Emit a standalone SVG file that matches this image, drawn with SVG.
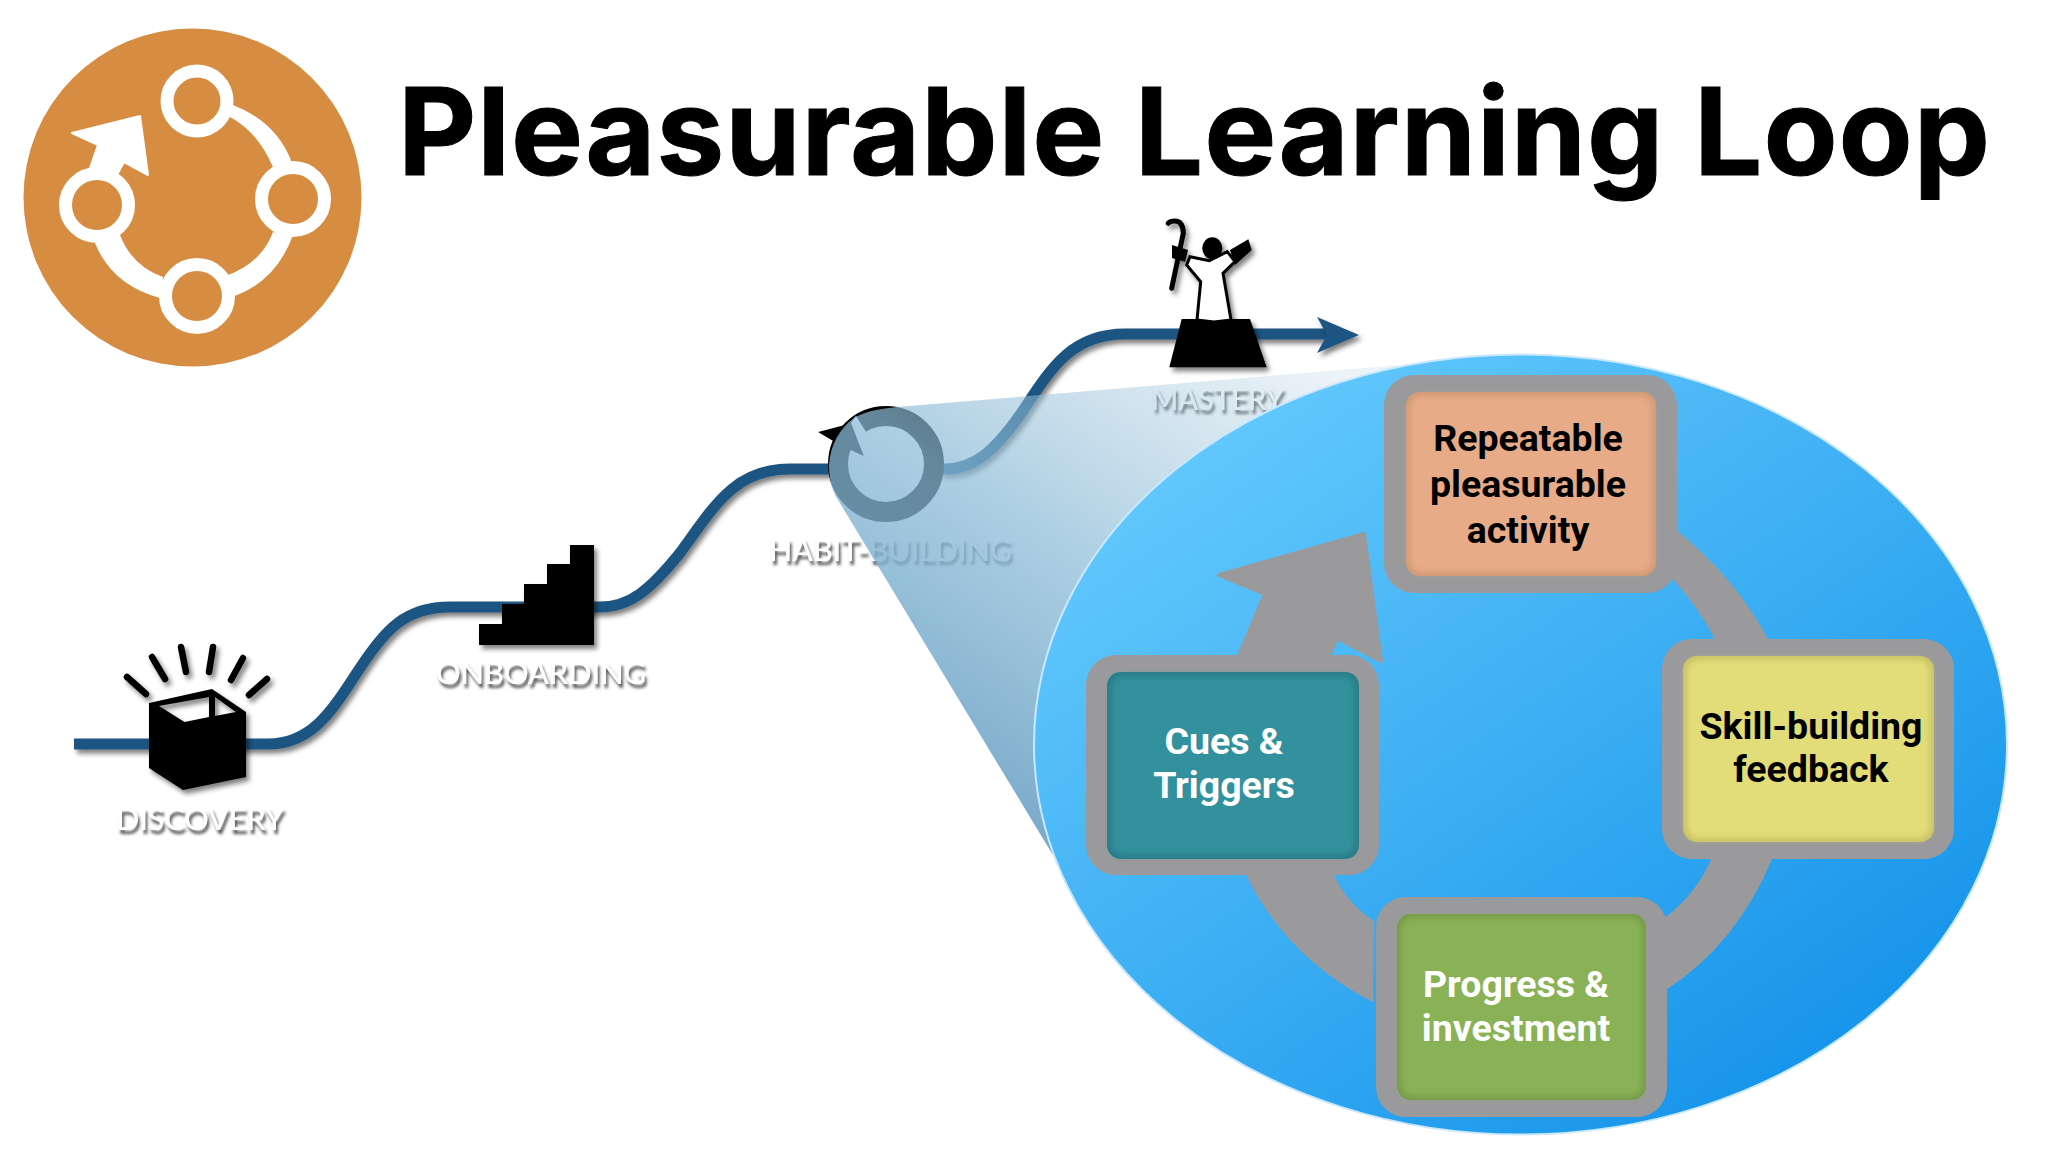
<svg xmlns="http://www.w3.org/2000/svg" width="2048" height="1152" viewBox="0 0 2048 1152">
<style>
.title{font-family:Inter,"Open Sans",sans-serif;font-weight:700;font-size:121px;fill:#000;stroke:#000;stroke-width:1}
.stage{font-family:Lato,"Liberation Sans",sans-serif;font-size:30px;font-weight:500;fill:#fff;filter:url(#ts)}
.box{font-family:Roboto,"Liberation Sans",sans-serif;font-weight:700;font-size:37.500px;text-anchor:middle}
.dark{fill:#000}.light{fill:#fff}
.gr{fill:#9a9a9c}
.lring{fill:#d68d41;stroke:#fff;stroke-width:13}
.ink{fill:#000}
</style>
<defs>
<filter id="ds" x="-20%" y="-20%" width="150%" height="150%"><feDropShadow dx="3" dy="4" stdDeviation="2.500" flood-color="#000" flood-opacity=".5"/></filter>
<filter id="ts" x="-10%" y="-30%" width="120%" height="170%"><feDropShadow dx="2" dy="4" stdDeviation="1.800" flood-color="#333" flood-opacity=".85"/></filter>
<filter id="bl" x="-5%" y="-5%" width="110%" height="110%"><feGaussianBlur stdDeviation="3"/></filter>
<linearGradient id="ell" x1="0.15" y1="0.12" x2="0.85" y2="0.92"><stop offset="0" stop-color="#62c8fc"/><stop offset="1" stop-color="#1493ea"/></linearGradient>
<linearGradient id="cone" gradientUnits="userSpaceOnUse" x1="1330" y1="370" x2="1000" y2="860"><stop offset="0" stop-color="#a0c4da" stop-opacity=".2"/><stop offset=".5" stop-color="#8cbcd8" stop-opacity=".72"/><stop offset="1" stop-color="#6a9fc2" stop-opacity=".95"/></linearGradient>
</defs>
<rect width="2048" height="1152" fill="#fff"/>
<g id="logo">
<circle cx="192.500" cy="197.500" r="169" fill="#d68d41"/>
<path class="light" d="M233,105Q277,122 292,163L273,167Q258,132 230,117Z"/>
<path class="light" d="M293,235Q276,282 232,297L228,275Q262,262 273,232Z"/>
<path class="light" d="M95,243Q112,285 160,298L163,277Q132,266 120,235Z"/>
<path class="light" d="M72,133L140,116L148,175L124,162L118,173L90,168L98,145Z" stroke="#fff" stroke-width="2" stroke-linejoin="round"/>
<circle class="lring" cx="197" cy="101" r="30"/>
<circle class="lring" cx="293" cy="199" r="31.500"/>
<circle class="lring" cx="197" cy="296" r="31.500"/>
<circle class="lring" cx="97" cy="205" r="31.500"/>
</g>
<text id="title" class="title" x="398" y="175" textLength="1592" lengthAdjust="spacing">Pleasurable Learning Loop</text>
<g id="connectors">
<path d="M74,744H268C315,744 335,705 360,668C385,630 405,607 450,607H600C630,607 650,590 680,553C715,505 735,469 790,469H832M940,469H945C975,469 995,450 1020,415C1050,370 1070,334 1125,334H1330" fill="none" stroke="#1f5582" stroke-width="11" filter="url(#ds)"/>
<polygon points="1317,317 1359,335 1317,353 1327,335" fill="#1f5582" filter="url(#ds)"/>
</g>
<g id="discovery" filter="url(#ds)">
<path class="ink" fill-rule="evenodd" d="M149,703L212,689L246,712V777L183,790L149,768ZM159,706L184.500,722L209,717V697ZM215,697V716L236,712Z"/>
<g stroke="#000" stroke-width="6.500" stroke-linecap="round"><path d="M127,677L146,694M152,657L165,679M181,647L186,672M213,647L209,672M243,658L231,680M267,679L249,695"/></g>
</g>
<text class="stage" x="116" y="830" textLength="168" lengthAdjust="spacingAndGlyphs">DISCOVERY</text>
<g id="onboarding" filter="url(#ds)">
<polygon class="ink" points="479,624 502,624 502,604 524,604 524,584 547,584 547,564 570,564 570,545 594,545 594,645 479,645"/>
</g>
<text class="stage" x="436" y="684" textLength="210" lengthAdjust="spacingAndGlyphs">ONBOARDING</text>
<g id="habit">
<circle cx="886" cy="464" r="48" fill="none" stroke="#000" stroke-width="20"/>
<polygon class="ink" points="818,432 845,425 852,430 840,445"/>
<polygon class="ink" points="846,448 864,456 851,423 838,430"/>
<polygon class="light" points="851,423 856,416 868,435 864,456"/>
<text class="stage" x="769" y="561" textLength="243" lengthAdjust="spacingAndGlyphs">HABIT-BUILDING</text>
</g>
<g id="mastery">
<g filter="url(#ds)">
<polygon class="ink" points="1181.700,319 1250,319 1266.700,367.300 1169.300,367.300"/>
<polygon class="light" points="1190,256.700 1209.300,260.700 1227.300,251.700 1235,261.700 1223,273.300 1231,320 1214,322 1197,320 1200.700,281.700 1186.700,265" stroke="#000" stroke-width="3"/>
<ellipse class="ink" cx="1212.300" cy="248.300" rx="10" ry="11"/>
<polygon class="ink" points="1230,250 1248.300,239.300 1251.700,250 1235,265"/>
<path d="M1171.700,288.300L1183.300,233.300Q1183,221 1175,221Q1170,221 1168.300,223.300" fill="none" stroke="#000" stroke-width="5" stroke-linecap="round"/>
<polygon class="ink" points="1172,245 1188,250 1185,261.700 1172,258"/>
</g>
<text class="stage" x="1151" y="410" textLength="133" lengthAdjust="spacingAndGlyphs">MASTERY</text>
</g>
<path id="cone" d="M1400,365L897,407Q872,409 855,417Q831,435 829,465Q829,482 835,495L1062,870Z" fill="url(#cone)"/>
<ellipse id="lens" cx="1520.500" cy="744.500" rx="486.500" ry="390" fill="url(#ell)" stroke="#c9e8fb" stroke-width="2"/>
<g id="cycle">
<g transform="translate(-8,-1)">
<path class="gr" d="M1682,529Q1745,580 1777,642L1724,642Q1705,605 1676,575Z"/>
<path class="gr" d="M1781,858Q1745,945 1674,991L1670,921Q1705,895 1720,858Z"/>
<path class="gr" d="M1253,874Q1295,960 1381,1003L1382,922Q1355,905 1341,874Z"/>
</g>
<path class="gr" d="M1219,575L1364,534L1381,661L1337,638L1328,658L1238,658L1265,594Z" stroke="#9a9a9c" stroke-width="4" stroke-linejoin="round"/>
</g>
<g id="node-repeatable">
<rect class="gr" x="1384" y="375" width="293" height="218" rx="30"/>
<rect x="1406" y="392" width="250" height="184" rx="14" fill="#d29a76"/>
<rect x="1410" y="396" width="242" height="176" rx="12" fill="#e7ab87" filter="url(#bl)"/>
<text class="box dark"><tspan x="1528" y="451">Repeatable</tspan><tspan x="1528" y="497">pleasurable</tspan><tspan x="1528" y="543">activity</tspan></text>
</g>
<g id="node-skill">
<rect class="gr" x="1662" y="639" width="292" height="220" rx="30"/>
<rect x="1683" y="656" width="251" height="186" rx="14" fill="#c9c366"/>
<rect x="1687" y="660" width="243" height="178" rx="12" fill="#e3dd79" filter="url(#bl)"/>
<text class="box dark"><tspan x="1811" y="739">Skill-building</tspan><tspan x="1811" y="782">feedback</tspan></text>
</g>
<g id="node-cues">
<rect class="gr" x="1086" y="655" width="293" height="220" rx="30"/>
<rect x="1107" y="672" width="252" height="187" rx="14" fill="#287c87"/>
<rect x="1111" y="676" width="244" height="179" rx="12" fill="#33919d" filter="url(#bl)"/>
<text class="box light"><tspan x="1224" y="754">Cues &amp;</tspan><tspan x="1224" y="798">Triggers</tspan></text>
</g>
<g id="node-progress">
<rect class="gr" x="1376" y="897" width="291" height="220" rx="30"/>
<rect x="1397" y="914" width="249" height="186" rx="14" fill="#779c49"/>
<rect x="1401" y="918" width="241" height="178" rx="12" fill="#89b156" filter="url(#bl)"/>
<text class="box light"><tspan x="1516" y="997">Progress &amp;</tspan><tspan x="1516" y="1041">investment</tspan></text>
</g>
</svg>
